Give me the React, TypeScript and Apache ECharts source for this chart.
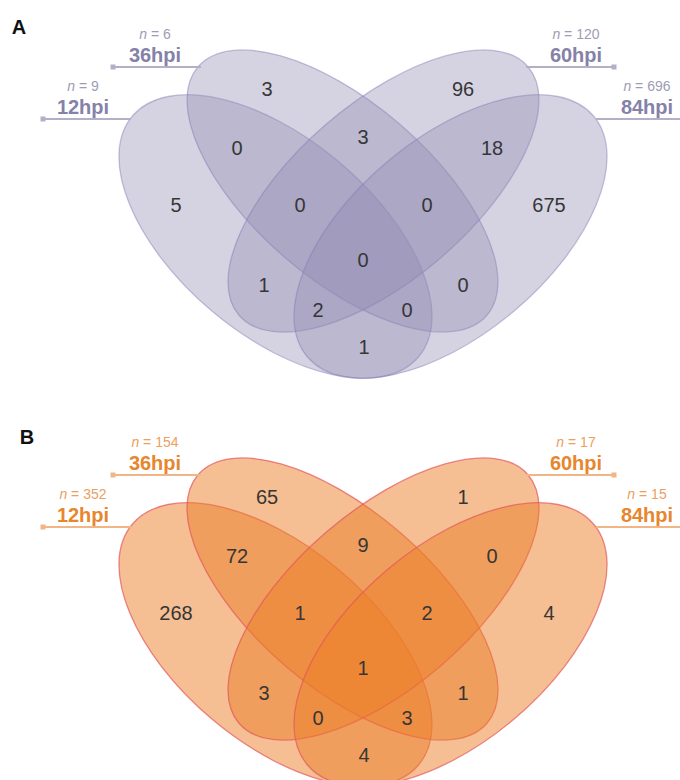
import React, { useEffect, useRef } from 'react';
import * as echarts from 'echarts';

// ---------- data ----------
const panelTitles = ['A', 'B'];
const setNames = ['12hpi', '36hpi', '60hpi', '84hpi'];
const totalsA = [9, 6, 120, 696];
const totalsB = [352, 154, 17, 15];
// region keys: letters = sets (A=12hpi, B=36hpi, C=60hpi, D=84hpi), exclusive regions
const regionKeys = ['A', 'B', 'C', 'D', 'AB', 'BC', 'CD', 'ABC', 'BCD', 'ABCD', 'AC', 'BD', 'ACD', 'ABD', 'AD'];
const countsA = [5, 3, 96, 675, 0, 3, 18, 0, 0, 0, 1, 0, 2, 0, 1];
const countsB = [268, 65, 1, 4, 72, 9, 0, 1, 2, 1, 3, 1, 0, 3, 4];

// ---------- layout (pixels within a panel) ----------
const PANEL_DY = [0, 408];
const TITLE_POS = [
  [19, 27],
  [27, 437],
];
const regionPos: Record<string, number[]> = {
  A: [176, 205], B: [267, 89], C: [463, 89], D: [549, 205],
  AB: [237, 148], BC: [363, 137], CD: [492, 148],
  ABC: [300, 205], BCD: [427, 205], ABCD: [363, 260],
  AC: [264, 285], BD: [463, 285], ACD: [318, 310], ABD: [407, 310], AD: [364, 347],
};
const ellipseGeom = [
  { cx: 275.5, cy: 236.5, rx: 187, ry: 98, angle: 40 },
  { cx: 342.5, cy: 191, rx: 190.6, ry: 88, angle: 40.7 },
  { cx: 383.5, cy: 191, rx: 190.6, ry: 88, angle: -40.7 },
  { cx: 450.5, cy: 236.5, rx: 187, ry: 98, angle: -40 },
];
const setLabelGeom = [
  { x: 83, nY: 86, nameY: 107, lineY: 119, x1: 43, x2: 131 },
  { x: 155, nY: 34, nameY: 55, lineY: 67, x1: 113, x2: 201 },
  { x: 576, nY: 34, nameY: 55, lineY: 67, x1: 614, x2: 526 },
  { x: 647, nY: 86, nameY: 107, lineY: 119, x1: 684, x2: 596 },
];

const themes = [
  {
    fill: 'rgba(145,140,180,0.38)',
    stroke: 'rgba(128,122,180,0.45)',
    label: '#8581a8',
    n: '#9e9cb4',
    line: '#b2afc9',
  },
  {
    fill: 'rgba(236,126,40,0.50)',
    stroke: 'rgba(228,86,92,0.7)',
    label: '#e8862e',
    n: '#eca060',
    line: '#f1b586',
  },
];

const FONT = '"Liberation Sans", Arial, Helvetica, sans-serif';

export default function App() {
  const ref = useRef<HTMLDivElement>(null);

  useEffect(() => {
    document.body.style.margin = '0';
    const chart = echarts.init(ref.current as HTMLDivElement, null, { renderer: 'svg' });

    const panels = [
      { totals: totalsA, counts: countsA },
      { totals: totalsB, counts: countsB },
    ];

    const series: any[] = [];
    panels.forEach((p, pi) => {
      const dy = PANEL_DY[pi];
      const th = themes[pi];

      // ellipses
      series.push({
        type: 'custom',
        coordinateSystem: 'cartesian2d',
        silent: true,
        z: 1,
        data: ellipseGeom.map((e) => [e.cx, e.cy + dy, e.rx, e.ry, e.angle]),
        renderItem: (params: any, api: any) => {
          const c = api.coord([api.value(0), api.value(1)]);
          const s = api.size([api.value(2), api.value(3)]);
          return {
            type: 'ellipse',
            x: c[0],
            y: c[1],
            rotation: (-api.value(4) * Math.PI) / 180,
            shape: { cx: 0, cy: 0, rx: Math.abs(s[0]), ry: Math.abs(s[1]) },
            style: { fill: th.fill, stroke: th.stroke, lineWidth: 1.3 },
          };
        },
      });

      // leader lines
      series.push({
        type: 'custom',
        coordinateSystem: 'cartesian2d',
        silent: true,
        z: 2,
        data: setLabelGeom.map((g) => [g.x1, g.x2, g.lineY + dy]),
        renderItem: (params: any, api: any) => {
          const a = api.coord([api.value(0), api.value(2)]);
          const b = api.coord([api.value(1), api.value(2)]);
          return {
            type: 'group',
            children: [
              {
                type: 'line',
                shape: { x1: a[0], y1: a[1], x2: b[0], y2: b[1] },
                style: { stroke: th.line, lineWidth: 2 },
              },
              {
                type: 'rect',
                shape: { x: a[0] - 2.5, y: a[1] - 2.5, width: 5, height: 5 },
                style: { fill: th.line },
              },
            ],
          };
        },
      });

      // set labels
      series.push({
        type: 'custom',
        coordinateSystem: 'cartesian2d',
        silent: true,
        z: 3,
        data: setLabelGeom.map((g, i) => [g.x, g.nameY + dy, g.nY + dy, p.totals[i], i]),
        renderItem: (params: any, api: any) => {
          const nm = api.coord([api.value(0), api.value(1)]);
          const nn = api.coord([api.value(0), api.value(2)]);
          const idx = api.value(4);
          return {
            type: 'group',
            children: [
              {
                type: 'text',
                x: nm[0],
                y: nm[1],
                style: {
                  text: setNames[idx],
                  fill: th.label,
                  font: `bold 20px ${FONT}`,
                  align: 'center',
                  verticalAlign: 'middle',
                  textAlign: 'center',
                  textVerticalAlign: 'middle',
                },
              },
              {
                type: 'text',
                x: nn[0],
                y: nn[1],
                style: {
                  text: `{i|n} = ${api.value(3)}`,
                  fill: th.n,
                  font: `14px ${FONT}`,
                  align: 'center',
                  verticalAlign: 'middle',
                  textAlign: 'center',
                  textVerticalAlign: 'middle',
                  rich: {
                    i: { fontStyle: 'italic', fontSize: 14, fontFamily: FONT, fill: th.n, color: th.n },
                  },
                },
              },
            ],
          };
        },
      });

      // region counts
      series.push({
        type: 'custom',
        coordinateSystem: 'cartesian2d',
        silent: true,
        z: 4,
        data: regionKeys.map((k, i) => [regionPos[k][0], regionPos[k][1] + dy, p.counts[i]]),
        renderItem: (params: any, api: any) => {
          const c = api.coord([api.value(0), api.value(1)]);
          return {
            type: 'text',
            x: c[0],
            y: c[1],
            style: {
              text: String(api.value(2)),
              fill: '#363636',
              font: `20px ${FONT}`,
              align: 'center',
              verticalAlign: 'middle',
              textAlign: 'center',
              textVerticalAlign: 'middle',
            },
          };
        },
      });
    });

    chart.setOption({
      animation: false,
      backgroundColor: '#ffffff',
      grid: { left: 0, right: 0, top: 0, bottom: 0 },
      xAxis: { type: 'value', min: 0, max: 680, show: false },
      yAxis: { type: 'value', min: 0, max: 780, inverse: true, show: false },
      graphic: panelTitles.map((t, i) => ({
        type: 'text',
        x: TITLE_POS[i][0],
        y: TITLE_POS[i][1],
        z: 10,
        style: {
          text: t,
          fill: '#111',
          font: `bold 20px ${FONT}`,
          align: 'center',
          verticalAlign: 'middle',
          textAlign: 'center',
          textVerticalAlign: 'middle',
        },
      })),
      series,
    });

    return () => {
      chart.dispose();
    };
  }, []);

  return <div ref={ref} style={{ width: 680, height: 780 }} />;
}
